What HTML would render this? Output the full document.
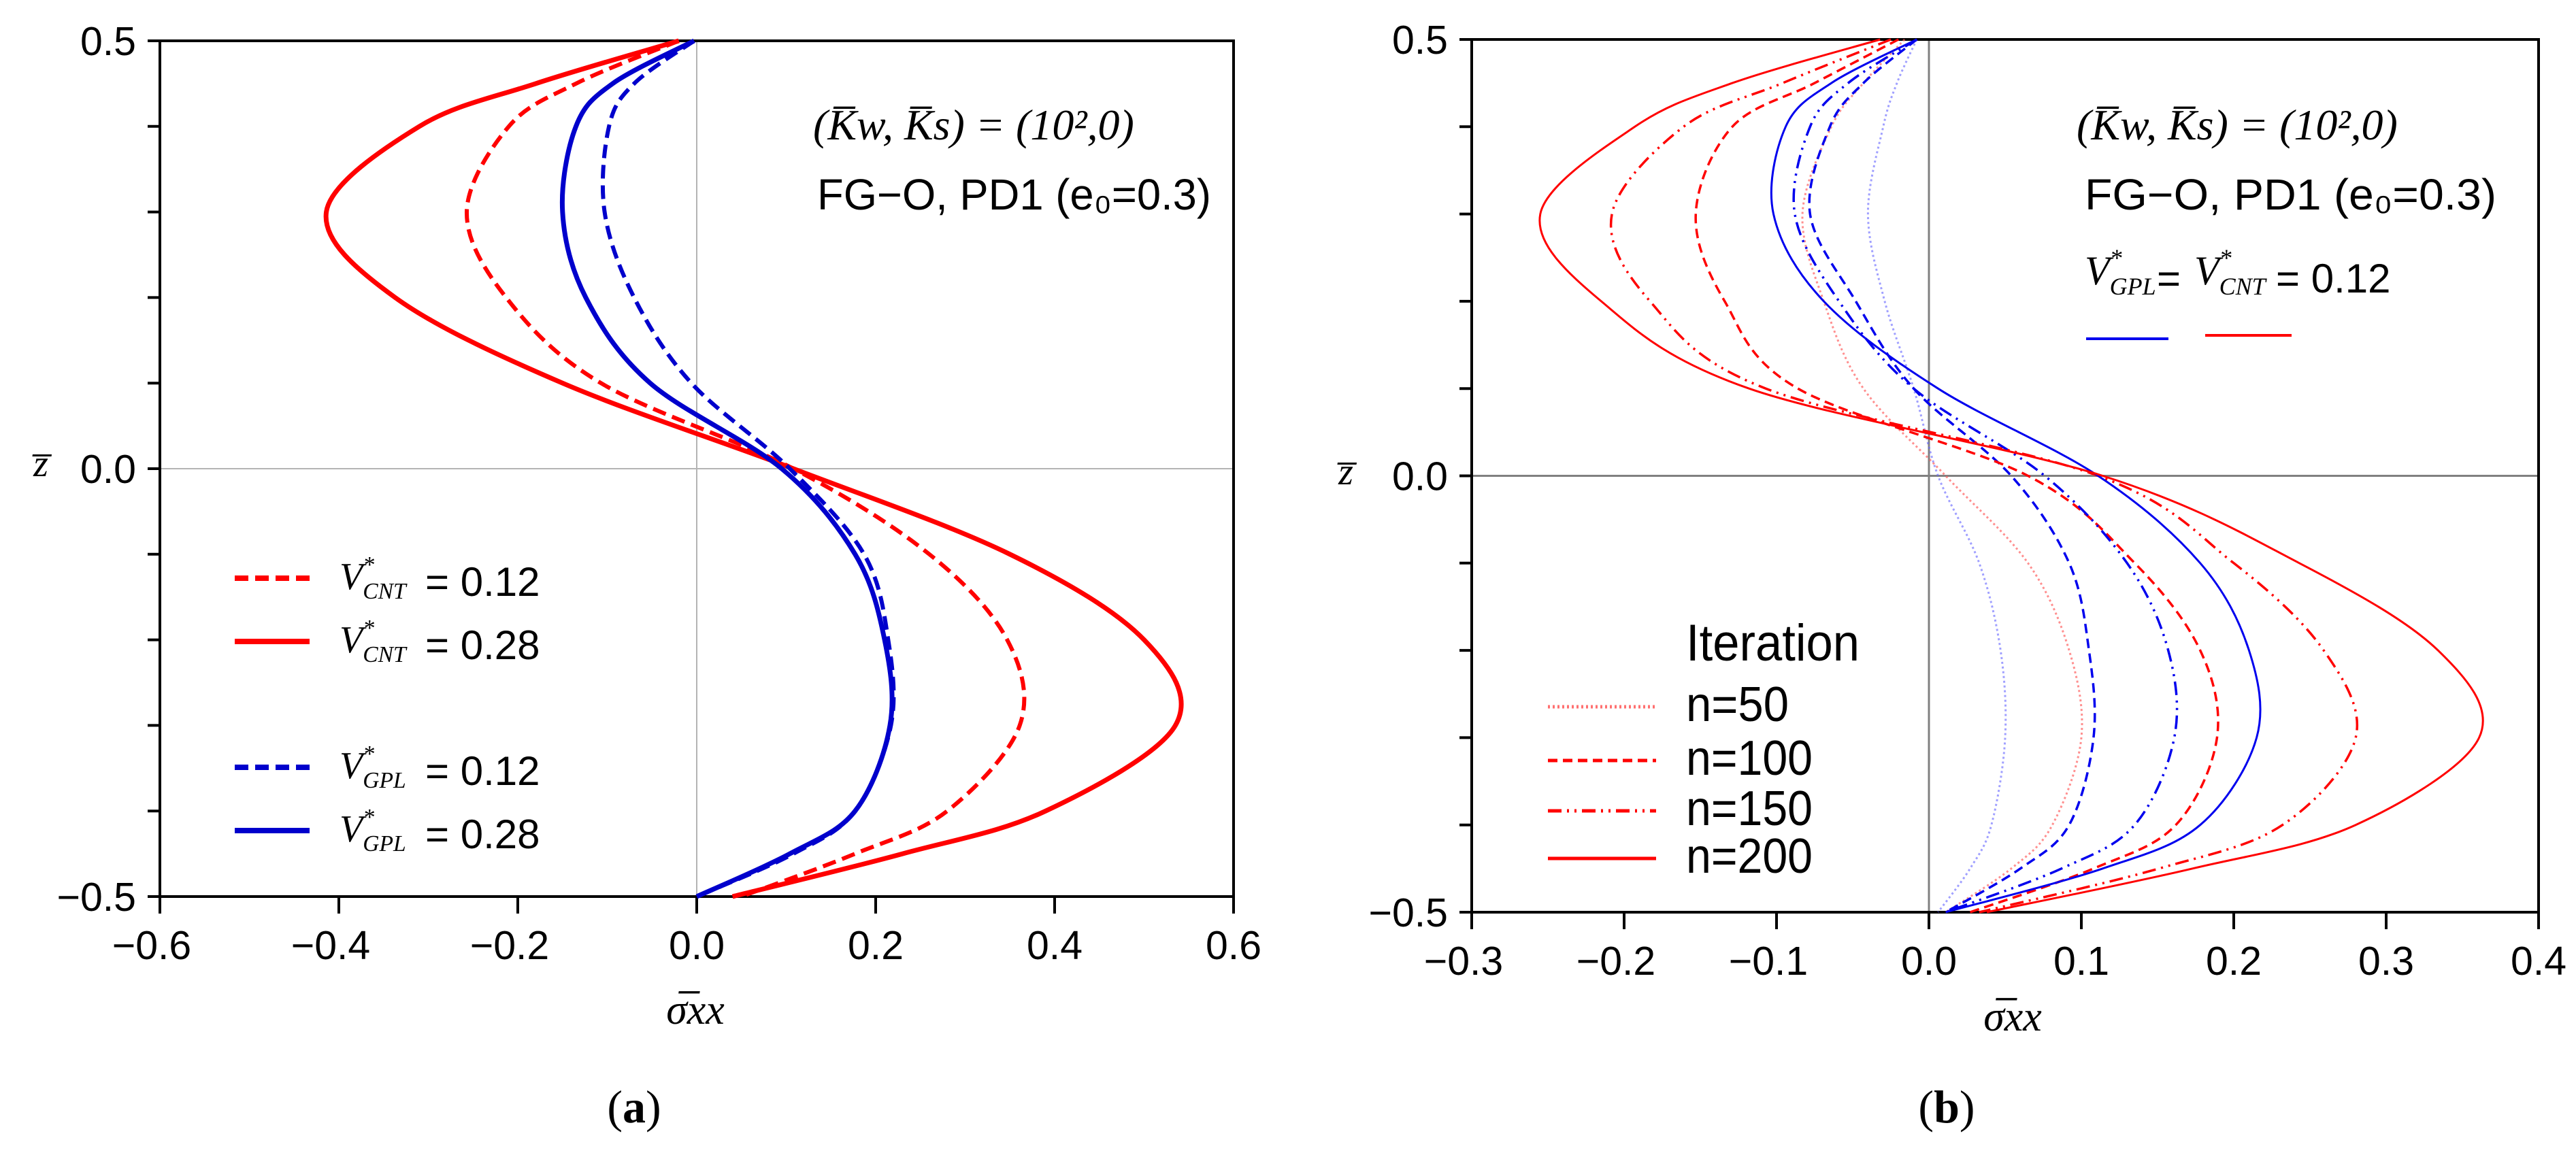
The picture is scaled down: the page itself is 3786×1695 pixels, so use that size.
<!DOCTYPE html>
<html><head><meta charset="utf-8"><style>
html,body{margin:0;padding:0;background:#fff;}
svg{display:block;}
text{font-family:"Liberation Sans",sans-serif;}
.tk{font-size:59px;fill:#000;}
.ser{font-family:"Liberation Serif",serif;}
</style></head><body>
<svg id="fig" width="3786" height="1695" viewBox="0 0 3786 1695" xmlns="http://www.w3.org/2000/svg">
<g id="pa"></g>
<g id="pb"></g>
</svg>
<script>
// ---- shared data ----
const zLevels = [0.5,0.45,0.4,0.3,0.2,0.1,0,-0.1,-0.2,-0.3,-0.4,-0.45,-0.5];
// Panel (a)
const aCntLow  = [-0.02,-0.135,-0.21,-0.257,-0.213,-0.107,0.108,0.26,0.347,0.361,0.28,0.177,0.05];
const aCntHigh = [-0.02,-0.18,-0.31,-0.414,-0.337,-0.15,0.108,0.35,0.5,0.535,0.39,0.23,0.04];
const aGplLow  = [-0.003,-0.07,-0.098,-0.103,-0.07,-0.006,0.104,0.187,0.214,0.217,0.177,0.108,0.0];
const aGplHigh = [-0.003,-0.094,-0.135,-0.15,-0.124,-0.052,0.095,0.177,0.21,0.216,0.177,0.104,0.0];
const aXTicks = [-0.6,-0.4,-0.2,0.0,0.2,0.4,0.6];
const aYTicks = [0.5,0.0,-0.5];
// Panel (b)
const bRed50  = [-0.016,-0.043,-0.064,-0.083,-0.069,-0.043,0.011,0.065,0.092,0.1,0.081,0.054,0.011];
const bRed100 = [-0.02,-0.075,-0.129,-0.153,-0.134,-0.086,0.065,0.135,0.178,0.189,0.162,0.108,0.027];
const bRed150 = [-0.025,-0.096,-0.161,-0.208,-0.183,-0.107,0.111,0.2,0.259,0.28,0.232,0.151,0.033];
const bRed200 = [-0.032,-0.129,-0.193,-0.255,-0.215,-0.118,0.114,0.243,0.334,0.361,0.28,0.173,0.038];
const bBlue50  = [-0.008,-0.021,-0.03,-0.04,-0.029,-0.01,0.006,0.033,0.047,0.05,0.041,0.027,0.006];
const bBlue100 = [-0.008,-0.043,-0.065,-0.078,-0.048,-0.01,0.054,0.092,0.105,0.108,0.092,0.06,0.011];
const bBlue150 = [-0.008,-0.053,-0.078,-0.088,-0.059,-0.01,0.076,0.13,0.157,0.161,0.135,0.087,0.011];
const bBlue200 = [-0.008,-0.064,-0.094,-0.102,-0.069,0.006,0.111,0.178,0.21,0.215,0.178,0.114,0.011];
const bXTicks = [-0.3,-0.2,-0.1,0.0,0.1,0.2,0.3,0.4];
const bYTicks = [0.5,0.0,-0.5];

const NS="http://www.w3.org/2000/svg";
function mk(parent,tag,attrs,txt){const e=document.createElementNS(NS,tag);for(const k in attrs)e.setAttribute(k,attrs[k]);if(txt!==undefined)e.textContent=txt;parent.appendChild(e);return e;}
function fmt(v){return (v<0?"\u2212":"")+Math.abs(v).toFixed(1);}
function curvePath(xs,zs,X,Y){
  const p=xs.map((v,i)=>[X(v),Y(zs[i])]);
  let d="M"+p[0][0].toFixed(1)+","+p[0][1].toFixed(1);
  for(let i=0;i<p.length-1;i++){
    const p0=p[Math.max(0,i-1)],p1=p[i],p2=p[i+1],p3=p[Math.min(p.length-1,i+2)];
    const c1=[p1[0]+(p2[0]-p0[0])/6,p1[1]+(p2[1]-p0[1])/6];
    const c2=[p2[0]-(p3[0]-p1[0])/6,p2[1]-(p3[1]-p1[1])/6];
    d+=" C"+c1[0].toFixed(1)+","+c1[1].toFixed(1)+" "+c2[0].toFixed(1)+","+c2[1].toFixed(1)+" "+p2[0].toFixed(1)+","+p2[1].toFixed(1);
  }
  return d;
}
function axes(g,L,R,T,B,xmin,xmax,xt,yt,zeroCol,zeroW,labOffX){
  const X=v=>L+(v-xmin)/(xmax-xmin)*(R-L);
  const Y=v=>T+(0.5-v)*(B-T);
  let e;
  e=mk(g,"line",{x1:X(0),x2:X(0),y1:T,y2:B,stroke:zeroCol,"stroke-width":zeroW});
  
  
  e=mk(g,"line",{x1:L,x2:R,y1:Y(0),y2:Y(0),stroke:zeroCol,"stroke-width":zeroW});
  
  
  e=mk(g,"rect",{x:L,y:T,width:R-L,height:B-T,fill:"none",stroke:"#000","stroke-width":4});
  
  
  xt.forEach(v=>{
    const t=mk(g,"line",{x1:X(v),x2:X(v),y1:B,y2:B+25,stroke:"#000","stroke-width":4});
    
    
    const l=mk(g,"text",{x:X(v)+(v<0?-12:0),y:B+92,"text-anchor":"middle",class:"tk"},fmt(v));
    
    
  });
  for(let k=-5;k<=5;k++){
    const v=k/10;
    const t=mk(g,"line",{x1:L-18,x2:L,y1:Y(v),y2:Y(v),stroke:"#000","stroke-width":4});
    
    
  }
  yt.forEach(v=>{
    const l=mk(g,"text",{x:L-labOffX,y:Y(v)+21,"text-anchor":"end",class:"tk"},v<0?fmt(v):v.toFixed(1));
    
    
  });
  return {X,Y};
}
function series(g,vals,X,Y,col,w,dash,name,op){
  const e=mk(g,"path",{d:curvePath(vals,zLevels,X,Y),fill:"none",stroke:col,"stroke-width":w,"stroke-dasharray":dash||"none","stroke-linejoin":"round",opacity:op||1});
  
  
}
function vsym(g,x,y,sub,fs){
  const t=mk(g,"text",{x:x,y:y,class:"ser","font-style":"italic","font-size":fs});
  mk(t,"tspan",{},"V");
  mk(t,"tspan",{dy:-fs*0.45,"font-size":fs*0.6},"*");
  mk(t,"tspan",{dx:-fs*0.3,dy:fs*0.7,"font-size":fs*0.6},sub);
  return t;
}

// ---- Panel A ----
(function(){
  const g=document.getElementById("pa");
  const {X,Y}=axes(g,235,1813,60,1318,-0.6,0.6,aXTicks,aYTicks,"#b4b4b4",2,35);
  series(g,aCntLow,X,Y,"#ff0000",6,"20 10","series-cnt-012");
  series(g,aCntHigh,X,Y,"#ff0000",7,null,"series-cnt-028");
  series(g,aGplLow,X,Y,"#0000cc",6,"20 10","series-gpl-012");
  series(g,aGplHigh,X,Y,"#0000cc",7,null,"series-gpl-028");
  // annotations
  let t=mk(g,"text",{x:1195,y:205,class:"ser","font-size":64,"font-style":"italic"},"(K\u0305w, K\u0305s) = (10\u00B2,0)");
  
  
  t=mk(g,"text",{x:1201,y:308,"font-size":64,textLength:579,lengthAdjust:"spacingAndGlyphs"},"FG\u2212O, PD1 (e\u2080=0.3)");
  
  
  // legend
  const rows=[[850,"20 10","#ff0000","CNT","0.12"],[943,null,"#ff0000","CNT","0.28"],[1128,"20 10","#0000cc","GPL","0.12"],[1221,null,"#0000cc","GPL","0.28"]];
  rows.forEach(r=>{
    const l=mk(g,"line",{x1:345,x2:455,y1:r[0],y2:r[0],stroke:r[2],"stroke-width":8,"stroke-dasharray":r[1]||"none"});
    
    
    const s=vsym(g,499,r[0]+16,r[3],56);
    
    
    const v=mk(g,"text",{x:625,y:r[0]+26,"font-size":60},"= "+r[4]);
    
    
  });
  t=mk(g,"text",{x:1022,y:1505,class:"ser","font-size":62,"font-style":"italic","text-anchor":"middle"},"\u03C3\u0305xx");
  
  
  t=mk(g,"text",{x:60,y:700,class:"ser","font-size":56,"font-style":"italic","text-anchor":"middle"},"z\u0305");
  
  
  t=mk(g,"text",{x:932,y:1650,class:"ser","font-size":68,"text-anchor":"middle"});
  mk(t,"tspan",{},"(");mk(t,"tspan",{"font-weight":"bold"},"a");mk(t,"tspan",{},")");
  
  
})();

// ---- Panel B ----
(function(){
  const g=document.getElementById("pb");
  const {X,Y}=axes(g,2163,3731,58,1341,-0.3,0.4,bXTicks,bYTicks,"#808080",3,35);
  series(g,bBlue50,X,Y,"#6060ff",3,"3 4","series-gpl-n50",0.6);
  series(g,bRed50,X,Y,"#ff6060",3,"3 4","series-cnt-n50",0.7);
  series(g,bBlue100,X,Y,"#0000ee",3.5,"14 8","series-gpl-n100");
  series(g,bRed100,X,Y,"#ff0000",3.5,"14 8","series-cnt-n100");
  series(g,bBlue150,X,Y,"#0000ee",3.5,"20 8 3 8 3 8","series-gpl-n150");
  series(g,bRed150,X,Y,"#ff0000",3.5,"20 8 3 8 3 8","series-cnt-n150");
  series(g,bBlue200,X,Y,"#0000ee",3,null,"series-gpl-n200");
  series(g,bRed200,X,Y,"#ff0000",3,null,"series-cnt-n200");
  let t=mk(g,"text",{x:3052,y:205,class:"ser","font-size":64,"font-style":"italic"},"(K\u0305w, K\u0305s) = (10\u00B2,0)");
  
  
  t=mk(g,"text",{x:3064,y:308,"font-size":64,textLength:605,lengthAdjust:"spacingAndGlyphs"},"FG\u2212O, PD1 (e\u2080=0.3)");
  
  
  t=vsym(g,3064,418,"GPL",60);
  
  
  t=vsym(g,3225,418,"CNT",60);
  
  
  t=mk(g,"text",{x:3170,y:430,"font-size":60},"=");
  
  
  t=mk(g,"text",{x:3345,y:430,"font-size":60},"= 0.12");
  
  
  t=mk(g,"line",{x1:3066,x2:3187,y1:498,y2:498,stroke:"#0000ee","stroke-width":4});
  
  
  t=mk(g,"line",{x1:3241,x2:3368,y1:493,y2:493,stroke:"#ff0000","stroke-width":4});
  
  
  t=mk(g,"text",{x:2478,y:971,"font-size":76,textLength:255,lengthAdjust:"spacingAndGlyphs"},"Iteration");
  
  
  const rows=[[1039,"3 4","#ff7070","n=50",151],[1118,"14 8","#ff0000","n=100",186],[1192,"20 8 3 8 3 8","#ff0000","n=150",186],[1262,null,"#ff0000","n=200",186]];
  rows.forEach(r=>{
    const l=mk(g,"line",{x1:2275,x2:2434,y1:r[0],y2:r[0],stroke:r[2],"stroke-width":5,"stroke-dasharray":r[1]||"none"});
    
    
    const s=mk(g,"text",{x:2478,y:r[0]+21,"font-size":72,textLength:r[4],lengthAdjust:"spacingAndGlyphs"},r[3]);
    
    
  });
  t=mk(g,"text",{x:2958,y:1515,class:"ser","font-size":62,"font-style":"italic","text-anchor":"middle"},"\u03C3\u0305xx");
  
  
  t=mk(g,"text",{x:1978,y:712,class:"ser","font-size":56,"font-style":"italic","text-anchor":"middle"},"z\u0305");
  
  
  t=mk(g,"text",{x:2861,y:1650,class:"ser","font-size":68,"text-anchor":"middle"});
  mk(t,"tspan",{},"(");mk(t,"tspan",{"font-weight":"bold"},"b");mk(t,"tspan",{},")");
  
  
})();
</script>
</body></html>
